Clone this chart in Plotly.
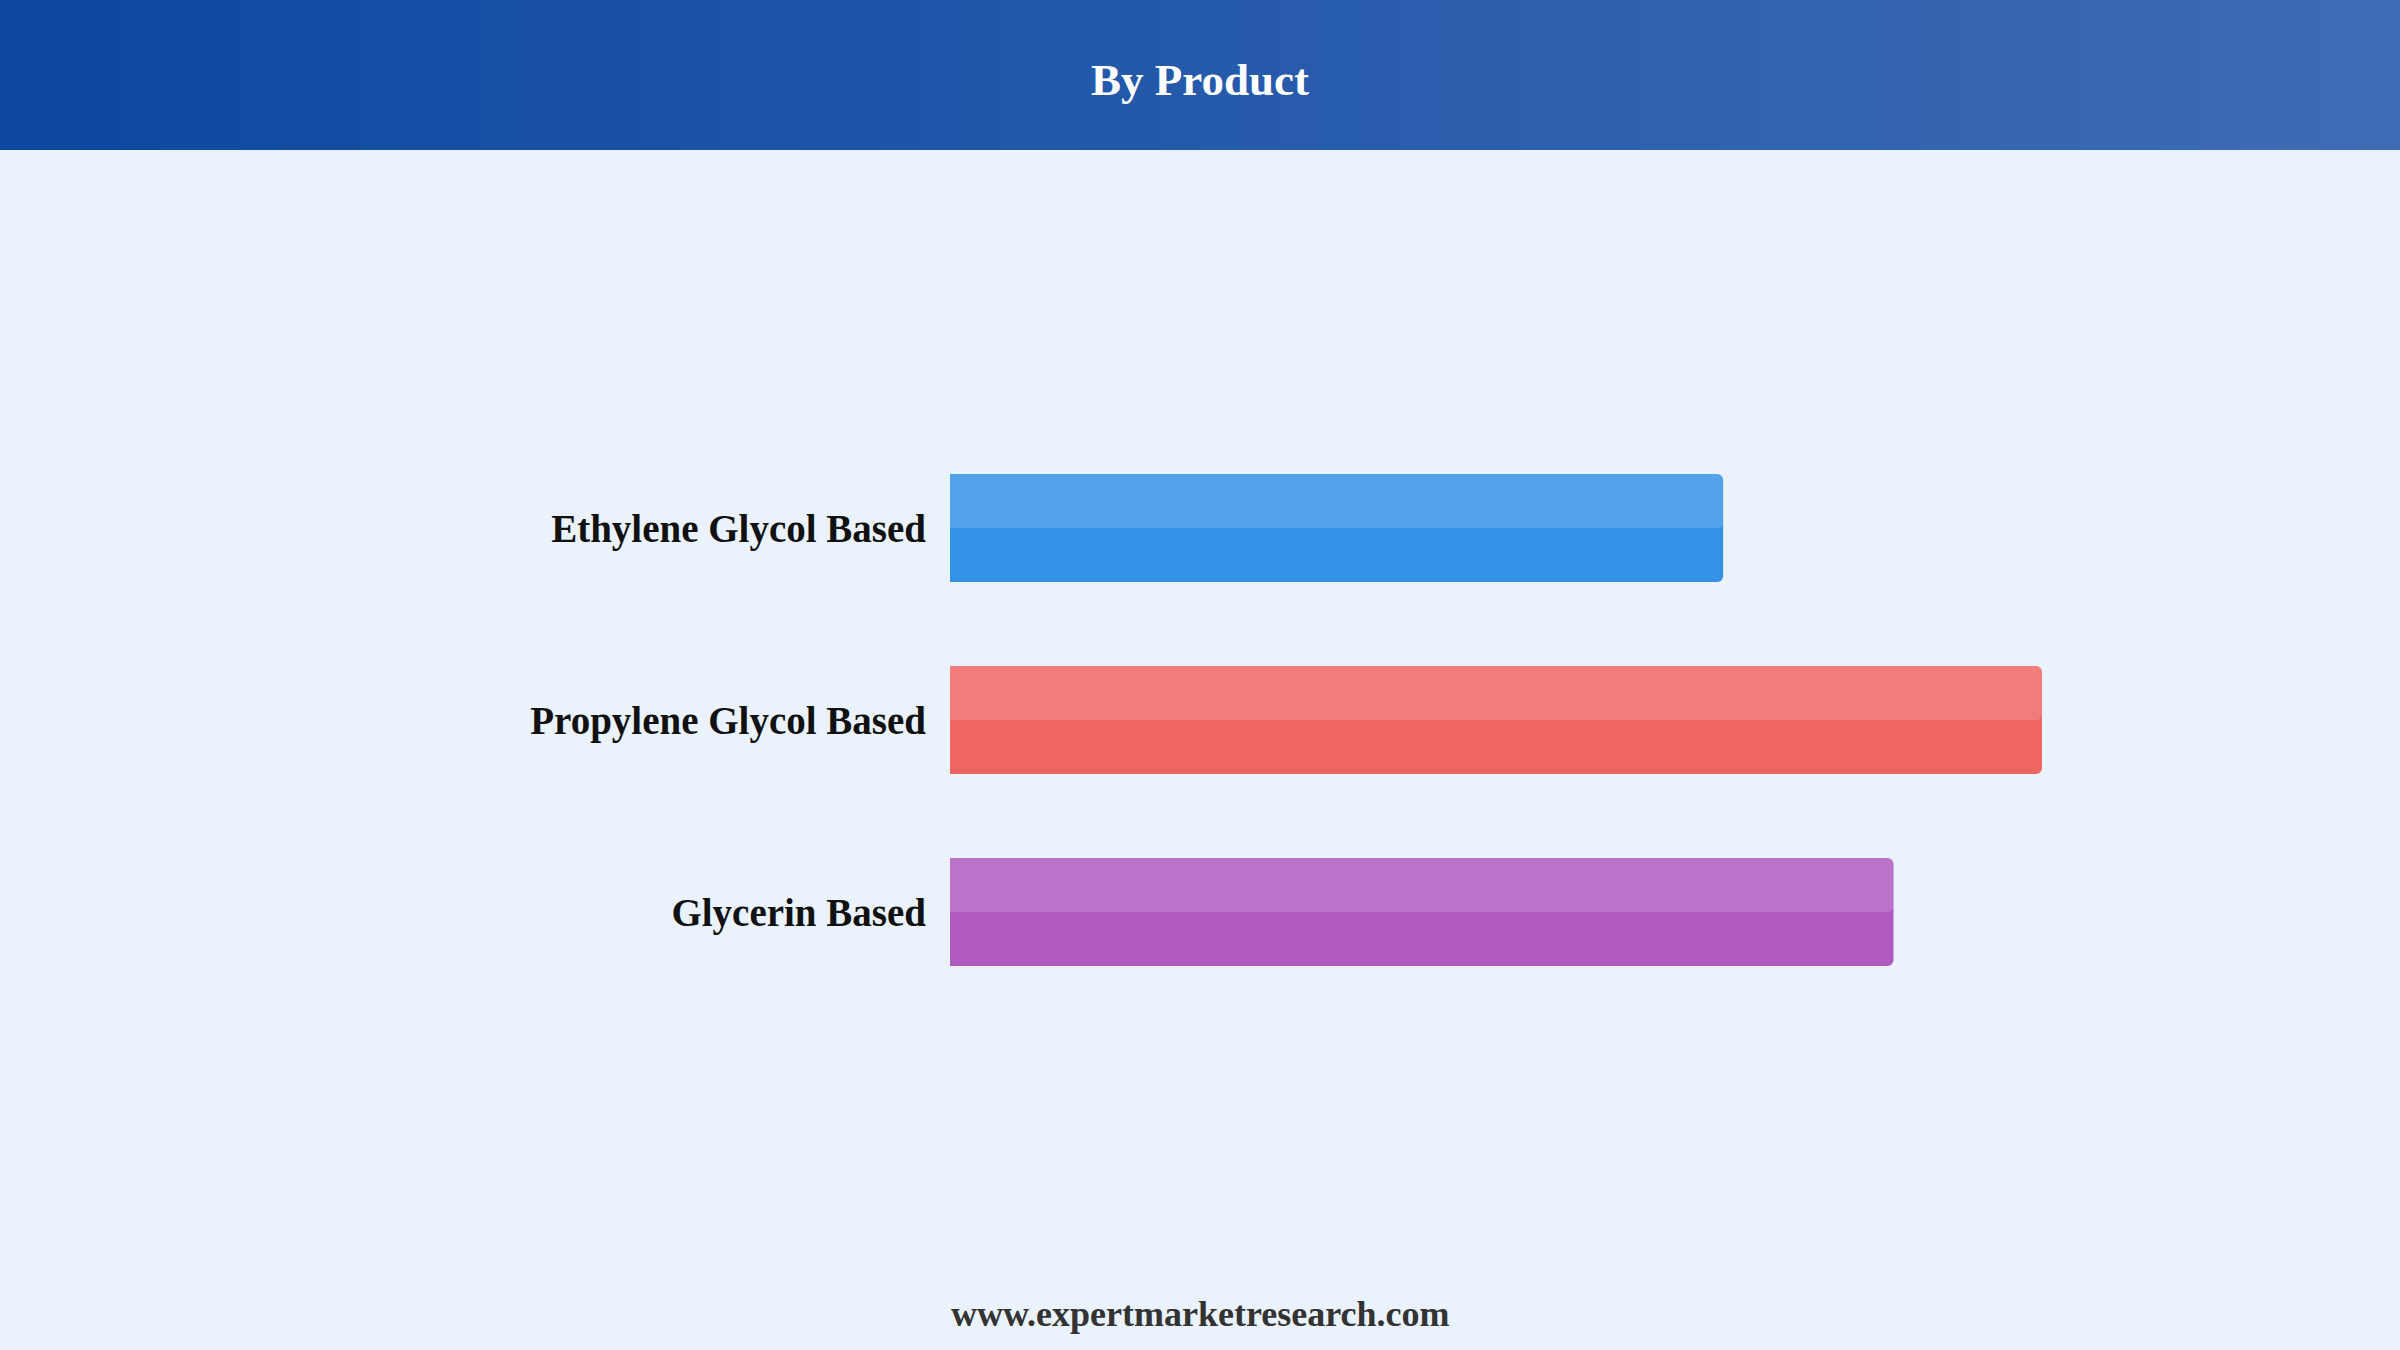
import plotly.graph_objects as go

# data (relative bar lengths, no axis shown)
products = ["Ethylene Glycol Based", "Propylene Glycol Based", "Glycerin Based"]
shares = [35.4, 50.0, 43.2]
bar_colors = ["#3492E6", "#EE6562", "#B05AC0"]

W, H = 2400, 1350
# plot area in pixels
L, R, T, B = 950, 358, 432, 342
BAR_W = 0.5625


def px_to_paper_x(px):
    return (px - L) / (W - L - R)


def px_to_paper_y(py):
    return (H - B - py) / (H - T - B)


fig = go.Figure()

# main bars
fig.add_trace(go.Bar(
    x=shares,
    y=products,
    orientation="h",
    width=BAR_W,
    marker=dict(color=bar_colors, line=dict(width=0)),
    hoverinfo="skip",
    showlegend=False,
))
# lighter top half (gloss)
fig.add_trace(go.Bar(
    x=shares,
    y=products,
    orientation="h",
    width=BAR_W / 2,
    offset=-BAR_W / 2,
    marker=dict(color="rgba(255,255,255,0.16)", line=dict(width=0)),
    hoverinfo="skip",
    showlegend=False,
))

# header band, drawn as thin strips to fake a left->right gradient
c0 = (13, 71, 161)
c1 = (62, 108, 181)
n = 60
shapes = []
for i in range(n):
    t = i / (n - 1)
    col = tuple(round(a + (b - a) * t) for a, b in zip(c0, c1))
    shapes.append(dict(
        type="rect", xref="paper", yref="paper",
        x0=px_to_paper_x(W * i / n), x1=px_to_paper_x(W * (i + 1) / n + 1),
        y0=px_to_paper_y(150), y1=px_to_paper_y(0),
        fillcolor="rgb(%d,%d,%d)" % col, line=dict(width=0), layer="below",
    ))

fig.update_layout(
    width=W,
    height=H,
    margin=dict(l=L, r=R, t=T, b=B, pad=0),
    paper_bgcolor="#EAF2FC",
    plot_bgcolor="#EAF2FC",
    barmode="overlay",
    barcornerradius=6,
    shapes=shapes,
    font=dict(family="Liberation Serif, Times New Roman, serif"),
    xaxis=dict(range=[0, 50], visible=False, fixedrange=True),
    yaxis=dict(
        categoryorder="array",
        categoryarray=products,
        autorange="reversed",
        showgrid=False,
        showline=False,
        zeroline=False,
        ticks="",
        ticklabelstandoff=23,
        tickfont=dict(family="Liberation Serif, Times New Roman, serif",
                      size=39, color="#111111", weight="bold"),
        fixedrange=True,
    ),
    annotations=[
        dict(text="<b>By Product</b>", xref="paper", yref="paper",
             x=px_to_paper_x(W / 2), y=px_to_paper_y(80),
             xanchor="center", yanchor="middle", showarrow=False,
             font=dict(size=45, color="white")),
        dict(text="<b>www.expertmarketresearch.com</b>", xref="paper", yref="paper",
             x=px_to_paper_x(W / 2), y=px_to_paper_y(1314),
             xanchor="center", yanchor="middle", showarrow=False,
             font=dict(size=36, color="#333333")),
    ],
)

fig.write_html("out.html", config={"displayModeBar": False})

# drop the default body margin so the figure sits at the window corner
with open("out.html", "r", encoding="utf-8") as f:
    page = f.read()
page = page.replace("<head>", "<head><style>body{margin:0;}</style>", 1)
with open("out.html", "w", encoding="utf-8") as f:
    f.write(page)
